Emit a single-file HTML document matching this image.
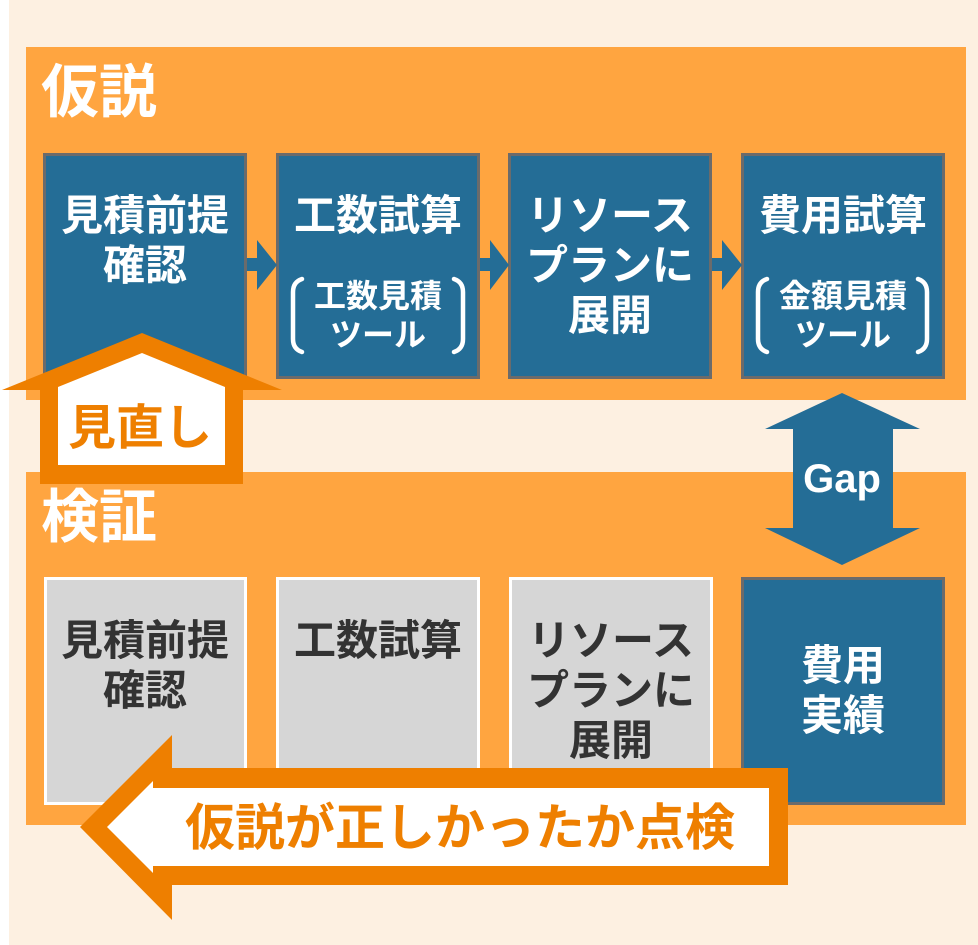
<!DOCTYPE html>
<html>
<head>
<meta charset="utf-8">
<style>
  html,body{margin:0;padding:0;background:#ffffff;}
  svg{display:block;}
  text{font-family:"Liberation Sans","Noto Sans CJK JP",sans-serif;font-weight:bold;}
</style>
</head>
<body>
<svg width="978" height="945" viewBox="0 0 978 945" xmlns="http://www.w3.org/2000/svg">
  <!-- background -->
  <rect x="0" y="0" width="978" height="945" fill="#ffffff"/>
  <rect x="9" y="0" width="969" height="945" fill="#FDF0E1"/>

  <!-- panels -->
  <rect x="26" y="47" width="940" height="353" fill="#FFA540"/>
  <rect x="26" y="472" width="940" height="353" fill="#FFA540"/>

  <!-- panel labels -->
  <text x="41" y="112" font-size="58" fill="#ffffff">仮説</text>
  <text x="41" y="537" font-size="58" fill="#ffffff">検証</text>

  <!-- top row boxes -->
  <rect x="44.5" y="154.5" width="201" height="223" fill="#246D96" stroke="#6B6B6B" stroke-width="3"/>
  <rect x="277.5" y="154.5" width="201" height="223" fill="#246D96" stroke="#6B6B6B" stroke-width="3"/>
  <rect x="509.5" y="154.5" width="201" height="223" fill="#246D96" stroke="#6B6B6B" stroke-width="3"/>
  <rect x="742.5" y="154.5" width="201" height="223" fill="#246D96" stroke="#6B6B6B" stroke-width="3"/>

  <!-- small arrows -->
  <polygon points="247,258 257,258 257,240 277,265 257,290 257,271 247,271" fill="#246D96"/>
  <polygon points="480,258 490,258 490,240 509,265 490,290 490,271 480,271" fill="#246D96"/>
  <polygon points="712,258 722,258 722,240 742,265 722,290 722,271 712,271" fill="#246D96"/>

  <!-- top row text -->
  <g fill="#ffffff" text-anchor="middle">
    <text x="145" y="230" font-size="42">見積前提</text>
    <text x="145" y="280" font-size="42">確認</text>

    <text x="378" y="230" font-size="42">工数試算</text>
    <text x="378" y="307" font-size="32">工数見積</text>
    <text x="378" y="346" font-size="32">ツール</text>

    <text x="610" y="230" font-size="42">リソース</text>
    <text x="610" y="280" font-size="42">プランに</text>
    <text x="610" y="330" font-size="42">展開</text>

    <text x="843" y="230" font-size="42">費用試算</text>
    <text x="843" y="307" font-size="32">金額見積</text>
    <text x="843" y="346" font-size="32">ツール</text>
  </g>

  <!-- brackets -->
  <g fill="none" stroke="#ffffff" stroke-width="4.5" stroke-linecap="round">
    <path d="M302,279 Q293,282 293,292 L293,339 Q293,349 302,352"/>
    <path d="M454,279 Q463,282 463,292 L463,339 Q463,349 454,352"/>
    <path d="M767,279 Q758,282 758,292 L758,339 Q758,349 767,352"/>
    <path d="M918,279 Q927,282 927,292 L927,339 Q927,349 918,352"/>
  </g>

  <!-- bottom row boxes -->
  <rect x="45.5" y="578.5" width="200" height="225" fill="#D6D6D6" stroke="#ffffff" stroke-width="3"/>
  <rect x="277.5" y="578.5" width="201" height="225" fill="#D6D6D6" stroke="#ffffff" stroke-width="3"/>
  <rect x="510.5" y="578.5" width="201" height="225" fill="#D6D6D6" stroke="#ffffff" stroke-width="3"/>
  <rect x="742.5" y="578.5" width="201" height="225" fill="#246D96" stroke="#6B6B6B" stroke-width="3"/>

  <g fill="#333333" text-anchor="middle">
    <text x="145" y="655" font-size="42">見積前提</text>
    <text x="145" y="705" font-size="42">確認</text>
    <text x="378" y="655" font-size="42">工数試算</text>
    <text x="611" y="655" font-size="42">リソース</text>
    <text x="611" y="705" font-size="42">プランに</text>
    <text x="611" y="755" font-size="42">展開</text>
  </g>
  <g fill="#ffffff" text-anchor="middle">
    <text x="843" y="680" font-size="42">費用</text>
    <text x="843" y="730" font-size="42">実績</text>
  </g>

  <!-- Gap arrow -->
  <polygon points="842,393 920,429 893,429 893,528 920,528 842,565 765,528 793,528 793,429 765,429" fill="#246D96"/>
  <text x="842" y="492" font-size="40" fill="#ffffff" text-anchor="middle" style="font-family:'Liberation Sans',sans-serif;">Gap</text>

  <!-- house 見直し -->
  <polygon points="142,333 282,390 243,390 243,484 40,484 40,390 2,390" fill="#EE7F00"/>
  <polygon points="142,353 225,387 225,465 58,465 58,387" fill="#ffffff"/>
  <text x="140" y="444" font-size="48" fill="#EE7F00" text-anchor="middle">見直し</text>

  <!-- big left arrow -->
  <polygon points="80,827 172,735 172,768 788,768 788,885 172,885 172,920" fill="#EE7F00"/>
  <polygon points="107,827 153,781 153,788 769,788 769,866 153,866 153,873" fill="#ffffff"/>
  <text x="185" y="845" font-size="50" fill="#EE7F00" textLength="550" lengthAdjust="spacingAndGlyphs">仮説が正しかったか点検</text>
</svg>
</body>
</html>
